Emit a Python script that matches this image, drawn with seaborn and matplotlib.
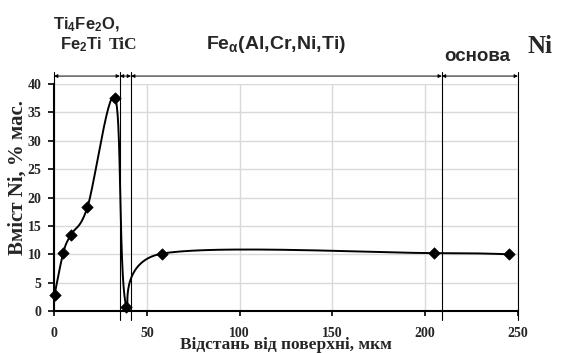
import numpy as np
import pandas as pd
import matplotlib
matplotlib.use("Agg")
import matplotlib.pyplot as plt
import seaborn as sns

# measured points
dist = [0.3, 5, 9, 18, 33, 39, 58, 205, 245]
ni = [2.9, 10.3, 13.4, 18.3, 37.5, 0.7, 10.1, 10.2, 10.0]

# phase zone boundaries, mkm
bounds = [0, 35.5, 41.5, 209, 250]
zone_labels = ["TiC", "Fe$_\\alpha$(Al,Cr,Ni,Ti)", "основа"]


def smooth(x, y, n=40):
    # excel-like smoothed line (bezier through points)
    x = np.asarray(x, float)
    y = np.asarray(y, float)
    xs, ys = [], []
    for i in range(len(x) - 1):
        p0 = np.array([x[max(i - 1, 0)], y[max(i - 1, 0)]])
        p1 = np.array([x[i], y[i]])
        p2 = np.array([x[i + 1], y[i + 1]])
        p3 = np.array([x[min(i + 2, len(x) - 1)], y[min(i + 2, len(x) - 1)]])
        c1 = p1 + (p2 - p0) / 6
        c2 = p2 - (p3 - p1) / 6
        t = np.linspace(0, 1, n)[:, None]
        pts = (1 - t) ** 3 * p1 + 3 * (1 - t) ** 2 * t * c1 + 3 * (1 - t) * t ** 2 * c2 + t ** 3 * p2
        xs.extend(pts[:, 0])
        ys.extend(pts[:, 1])
    return pd.DataFrame({"x": xs, "y": ys})


sns.set_style("white")
plt.rcParams["font.family"] = ["Liberation Serif", "DejaVu Serif"]
plt.rcParams["mathtext.default"] = "regular"

fig = plt.figure(figsize=(5.63, 3.53), dpi=100)
ax = fig.add_axes([0.096, 0.119, 0.824, 0.643])

curve = smooth(dist, ni)
sns.lineplot(data=curve, x="x", y="y", sort=False, color="black", lw=1.4, ax=ax)
sns.scatterplot(x=dist, y=ni, marker="D", s=34, color="black", edgecolor="black", zorder=5,
                clip_on=False, ax=ax)

ax.set_xlim(0, 250)
ax.set_ylim(0, 40)
ax.set_xticks(range(0, 251, 50))
ax.set_yticks(range(0, 41, 5))
ax.grid(True, color="#d9d9d9", lw=1)
for s in ["top", "right"]:
    ax.spines[s].set_visible(False)
for s in ["left", "bottom"]:
    ax.spines[s].set_color("black")
    ax.spines[s].set_linewidth(1.5)
ax.tick_params(axis="x", direction="out", length=3.5, width=1.2, color="black",
               labelsize=10, pad=8, bottom=True)
ax.tick_params(axis="y", direction="out", length=4, width=1.2, color="black",
               labelsize=10, pad=5, left=True)
for lab in ax.get_xticklabels() + ax.get_yticklabels():
    lab.set_fontweight("bold")

ax.set_xlabel("Відстань від поверхні, мкм", fontsize=12.5, fontweight="bold")
ax.set_ylabel("Вміст Ni, % мас.", fontsize=15, fontweight="bold")
ax.xaxis.set_label_coords(0.5, -0.113)
ax.yaxis.set_label_coords(-0.058, 0.59)

# zone boundaries and arrows
for b in bounds[1:]:
    ax.plot([b, b], [-1.6, 42.1], color="black", lw=0.8, clip_on=False)
ax.plot([0, 0], [40, 42.1], color="black", lw=0.8, clip_on=False)
for a, b in zip(bounds[:-1], bounds[1:]):
    ax.annotate("", xy=(a, 41.4), xytext=(b, 41.4), annotation_clip=False,
                arrowprops=dict(arrowstyle="<|-|>", color="black", lw=0.7,
                                mutation_scale=5, shrinkA=0, shrinkB=0))

sans = ["Liberation Sans", "DejaVu Sans"]
ax.text(-0.8, 50.4, "Ti$_4$Fe$_2$O,", fontsize=12, fontweight="bold", family=sans,
        ha="left", va="center", clip_on=False)
ax.text(3.3, 46.9, "Fe$_2$Ti", fontsize=12, fontweight="bold", family=sans,
        ha="left", va="center", clip_on=False)
ax.text(37.4, 46.9, zone_labels[0], fontsize=12.5, fontweight="bold",
        ha="center", va="center", clip_on=False)
ax.text(119.6, 46.9, zone_labels[1], fontsize=14, fontweight="bold", family=sans,
        ha="center", va="center", clip_on=False)
ax.text(227.9, 44.8, zone_labels[2], fontsize=13.5, fontweight="bold", family=sans,
        ha="center", va="center", clip_on=False)
ax.text(261.9, 46.6, "Ni", fontsize=18, fontweight="bold",
        ha="center", va="center", clip_on=False)

fig.savefig("out.png", dpi=100)
